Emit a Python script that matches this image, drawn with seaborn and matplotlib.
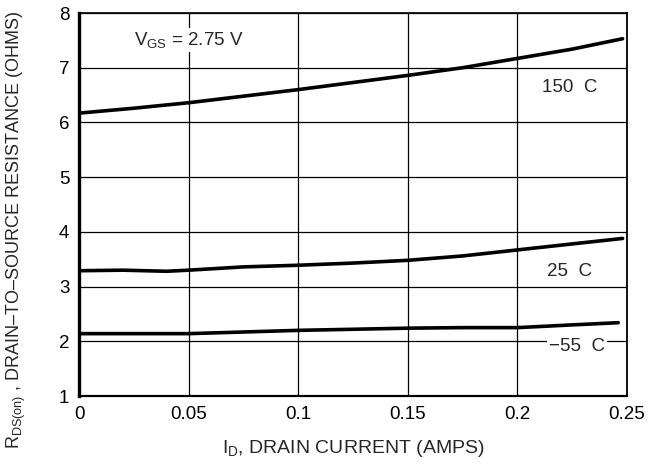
import numpy as np
import pandas as pd
import matplotlib
matplotlib.use("Agg")
import matplotlib.pyplot as plt
import seaborn as sns

# Data
current_150 = [0.0, 0.025, 0.05, 0.075, 0.1, 0.125, 0.15, 0.175, 0.2, 0.225, 0.248]
rds_150 = [6.17, 6.26, 6.36, 6.48, 6.60, 6.73, 6.86, 7.00, 7.17, 7.34, 7.53]
current_25 = [0.0, 0.02, 0.04, 0.05, 0.075, 0.1, 0.125, 0.15, 0.175, 0.2, 0.225, 0.248]
rds_25 = [3.29, 3.30, 3.28, 3.30, 3.36, 3.39, 3.43, 3.48, 3.56, 3.67, 3.78, 3.88]
current_m55 = [0.0, 0.05, 0.075, 0.1, 0.125, 0.15, 0.175, 0.2, 0.225, 0.246]
rds_m55 = [2.14, 2.14, 2.17, 2.20, 2.22, 2.24, 2.25, 2.25, 2.30, 2.34]
series_labels = ["150  C", "25  C", "\u221255  C"]
x_ticks = [0, 0.05, 0.1, 0.15, 0.2, 0.25]
x_tick_labels = ["0", "0.05", "0.1", "0.15", "0.2", "0.25"]
y_ticks = [1, 2, 3, 4, 5, 6, 7, 8]

df = pd.concat([
    pd.DataFrame({"I": current_150, "R": rds_150, "T": series_labels[0]}),
    pd.DataFrame({"I": current_25, "R": rds_25, "T": series_labels[1]}),
    pd.DataFrame({"I": current_m55, "R": rds_m55, "T": series_labels[2]}),
])

sns.set_theme(style="white")
plt.rcParams["font.family"] = ["Liberation Sans", "DejaVu Sans"]
plt.rcParams["mathtext.fontset"] = "custom"
plt.rcParams["mathtext.rm"] = "Liberation Sans"
plt.rcParams["mathtext.it"] = "Liberation Sans"

fig = plt.figure(figsize=(6.54, 4.68), dpi=100)
ax = fig.add_axes([0.1208, 0.1538, 0.8379, 0.8184])

sns.lineplot(data=df, x="I", y="R", hue="T", palette=["black"] * 3,
             linewidth=2.6, legend=False, ax=ax, sort=True, estimator=None, zorder=3)

ax.set_xlim(0, 0.25)
ax.set_ylim(1, 8)
ax.set_xticks(x_ticks)
ax.set_xticklabels(x_tick_labels)
ax.set_yticks(y_ticks)
ax.tick_params(length=0, labelsize=13.5, colors="black", pad=7)
ax.grid(True, color="black", linewidth=0.9)
ax.set_axisbelow(True)

for side, lw in [("left", 2.4), ("bottom", 1.6), ("top", 1.2), ("right", 1.3)]:
    ax.spines[side].set_visible(True)
    ax.spines[side].set_color("black")
    ax.spines[side].set_linewidth(lw)

ax.set_xlabel(r"$\mathregular{I_D}$, DRAIN CURRENT (AMPS)", fontsize=14, labelpad=11)
ax.set_ylabel(r"$\mathregular{R_{DS(on)}}$ , " + "DRAIN\u2013TO\u2013SOURCE RESISTANCE (OHMS)",
              fontsize=13, labelpad=10)
ax.yaxis.set_label_coords(-0.093, 0.435)

bbox = dict(facecolor="white", edgecolor="none", pad=1.5)
ax.text(0.05, 7.5, r"$\mathregular{V_{GS}}$ = 2.75 V", fontsize=13.5, ha="center", va="center",
        bbox=bbox, zorder=4)
ax.text(0.224, 6.63, series_labels[0], fontsize=13.5, ha="center", va="center", zorder=4)
ax.text(0.224, 3.27, series_labels[1], fontsize=13.5, ha="center", va="center", zorder=4)
ax.text(0.227, 1.9, series_labels[2], fontsize=13.5, ha="center", va="center", bbox=bbox, zorder=4)

fig.savefig("out.png", dpi=100)
